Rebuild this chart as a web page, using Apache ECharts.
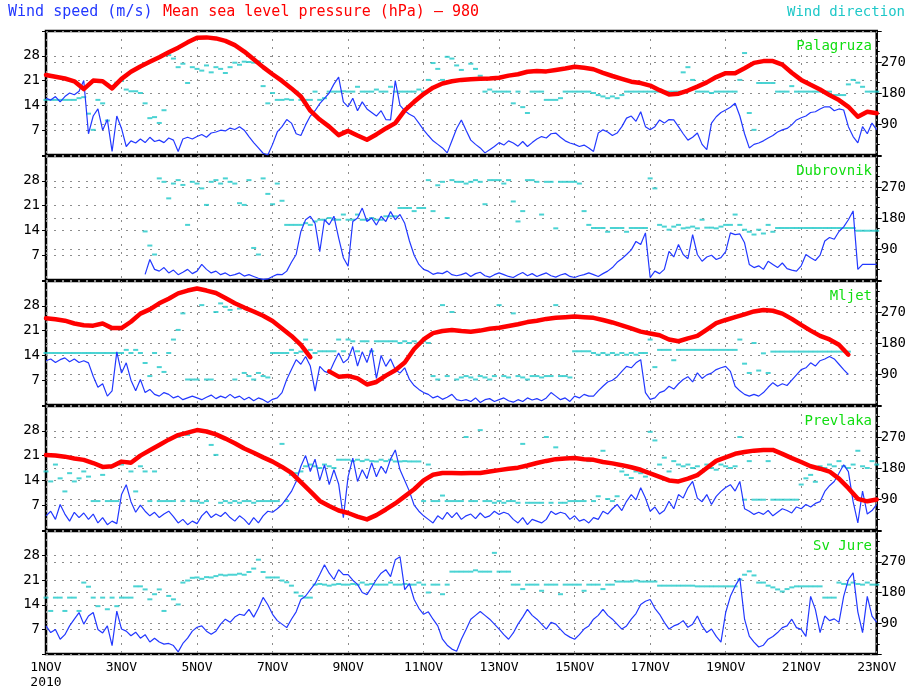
<!DOCTYPE html>
<html>
<head>
<meta charset="utf-8">
<title>Wind speed, pressure and wind direction - 1-23 Nov 2010</title>
<script src="https://cdn.jsdelivr.net/npm/echarts@6/dist/echarts.min.js"></script>
<style>
html, body { margin: 0; padding: 0; background: #fff; }
#main { width: 909px; height: 690px; }
</style>
</head>
<body>
<div id="main"></div>
<script>
// x = days since 1 Nov 2010 00h; wind every 3 h, pressure every 6 h
var WIND_STEP = 0.125;
var PRES_STEP = 0.25;

var stations = ['Palagruza', 'Dubrovnik', 'Mljet', 'Prevlaka', 'Sv Jure'];
var dayLabels = ['1NOV', '3NOV', '5NOV', '7NOV', '9NOV', '11NOV', '13NOV', '15NOV', '17NOV', '19NOV', '21NOV', '23NOV'];
var yearLabel = '2010';
var speedTicks = [7, 14, 21, 28];
var dirTicks = [90, 180, 270];

// wind speed (m/s)
var speedPalagruza = [
  16.0, 15.5, 16.5, 15.0, 16.5, 17.5, 17.0, 18.0,
  21.0, 6.0, 11.0, 13.0, 7.0, 10.0, 1.0, 11.0,
  7.5, 2.4, 4.0, 3.4, 4.5, 3.5, 5.0, 3.8,
  4.2, 3.5, 4.8, 4.2, 1.0, 4.5, 5.0, 4.5,
  5.2, 5.8, 5.0, 6.2, 6.5, 7.0, 6.8, 7.6,
  7.2, 8.0, 7.0, 5.2, 3.5, 2.0, 0.5, 0.0,
  3.0, 6.5, 8.0, 10.0, 9.0, 6.0, 5.5, 8.5,
  11.0, 12.5, 14.5, 16.0, 17.5, 20.0, 22.0, 15.0,
  13.6, 16.0, 12.5, 15.0, 13.0, 12.0, 11.0, 12.5,
  10.0, 9.9, 21.0, 14.0, 12.5, 11.5, 10.8, 9.0,
  7.1, 5.5, 4.0, 3.0, 2.0, 0.6, 4.0, 7.5,
  9.9, 7.0, 4.2, 3.0, 2.0, 0.6, 1.5, 2.4,
  3.5, 2.8, 4.0, 3.4, 2.5, 3.8, 2.4, 3.5,
  4.5, 5.2, 4.8, 6.0, 6.2, 5.0, 4.0, 3.4,
  3.0, 2.4, 2.8, 2.0, 1.0, 6.2, 7.1, 6.5,
  5.5, 6.2, 8.0, 10.4, 11.0, 9.5, 12.2, 8.0,
  7.1, 8.0, 9.9, 9.0, 10.0, 9.9, 8.0, 6.0,
  4.2, 5.0, 6.2, 3.0, 1.5, 9.0, 10.8, 12.0,
  12.7, 13.5, 14.6, 11.0, 6.0, 2.0, 3.0, 3.4,
  4.0, 4.8, 5.5, 6.5, 7.1, 7.5, 8.5, 9.9,
  10.5, 11.0, 12.0, 12.2, 13.0, 13.6, 13.6, 12.5,
  13.0, 12.7, 8.0, 5.2, 3.4, 8.0, 6.0, 9.0,
  7.1
];
var speedDubrovnik = [
  null, null, null, null, null, null, null, null,
  null, null, null, null, null, null, null, null,
  null, null, null, null, null, 1.6, 5.8, 3.0,
  2.5, 3.5, 2.0, 2.8, 1.5, 2.2, 3.0, 1.8,
  2.5, 4.4, 3.0, 2.0, 2.5, 1.5, 2.0, 1.2,
  1.5, 2.0, 1.1, 1.5, 1.0, 0.5, 0.2, 0.3,
  1.0, 1.6, 1.5, 2.5, 5.0, 7.2, 13.7, 17.0,
  18.0, 16.0, 8.0, 17.0, 15.6, 18.0, 11.9, 6.3,
  3.9, 16.5, 17.5, 20.3, 16.5, 17.5, 15.5, 18.0,
  16.5, 19.3, 17.0, 18.5, 16.0, 11.0, 7.0, 4.4,
  3.0, 2.5, 1.6, 2.0, 1.8, 2.5, 1.5, 1.2,
  1.5, 2.0, 1.0, 1.8, 2.2, 1.2, 0.8, 1.5,
  2.0, 1.5, 1.0, 0.7, 1.5, 2.1, 1.2, 1.8,
  1.0, 1.5, 2.0, 1.2, 0.8, 1.4, 1.8, 1.0,
  0.7, 1.2, 1.5, 2.0, 1.5, 1.0, 1.8, 2.5,
  3.5, 5.0, 6.0, 7.2, 8.5, 10.9, 10.0, 13.3,
  0.7, 2.5, 1.8, 3.0, 8.1, 6.5, 10.0, 7.2,
  6.0, 12.8, 7.2, 5.3, 6.5, 7.0, 5.8, 6.3,
  8.0, 13.3, 12.8, 13.0, 10.5, 4.4, 3.5, 4.0,
  3.0, 5.3, 4.4, 3.5, 4.8, 3.2, 2.8, 2.5,
  4.0, 7.2, 6.3, 5.5, 7.0, 11.0, 12.0, 11.5,
  13.7, 15.0, 17.0, 19.5, 3.0, 4.4, 4.4, 4.4,
  4.4
];
var speedMljet = [
  12.5, 13.0, 12.0, 12.8, 13.3, 12.2, 13.0, 12.0,
  12.5, 11.9, 8.1, 5.0, 6.0, 2.5, 4.0, 15.0,
  9.0, 11.9, 7.0, 4.0, 7.2, 3.5, 4.4, 3.0,
  2.5, 3.5, 3.0, 2.0, 2.5, 1.5, 2.0, 2.5,
  2.0, 1.5, 2.2, 2.8, 1.8, 2.5, 2.0, 3.0,
  2.0, 2.5, 1.5, 2.2, 1.2, 2.0, 1.5, 0.7,
  1.6, 2.0, 3.5, 7.2, 10.0, 12.8, 11.5, 13.7,
  11.0, 3.9, 10.9, 9.5, 9.0, 12.0, 14.7, 11.9,
  13.0, 16.5, 11.0, 15.0, 12.0, 16.0, 7.5, 14.0,
  10.9, 13.0, 10.0, 9.0, 10.5, 7.2, 5.5, 4.4,
  3.5, 3.0, 2.0, 2.5, 1.6, 2.2, 3.0, 1.5,
  1.2, 1.5, 1.0, 2.0, 0.7, 1.5, 1.8, 1.0,
  1.5, 2.0, 1.2, 0.8, 1.5, 1.0, 2.0, 1.4,
  1.8, 1.2, 2.0, 3.5, 2.5, 1.5, 2.0, 1.0,
  2.5, 2.0, 3.0, 2.5, 2.5, 4.0, 5.3, 6.5,
  7.0, 8.0, 9.5, 10.9, 10.5, 11.9, 12.8, 3.5,
  1.6, 2.0, 3.5, 4.0, 5.3, 4.5, 6.0, 7.2,
  8.0, 6.5, 9.1, 7.5, 8.5, 9.0, 10.0, 10.5,
  10.9, 9.5, 5.3, 4.0, 3.0, 2.5, 3.0, 2.5,
  3.5, 5.0, 6.3, 5.3, 6.0, 5.5, 7.0, 8.5,
  10.0, 10.5, 11.9, 11.0, 12.5, 13.0, 13.7, 13.0,
  11.5, 10.0, 8.6, null, null, null, null, null,
  null
];
var speedPrevlaka = [
  4.0, 5.3, 3.0, 7.2, 4.5, 2.5, 5.0, 3.5,
  4.8, 3.0, 4.5, 2.0, 3.5, 1.5, 2.5, 1.8,
  10.0, 12.8, 8.0, 5.0, 7.0, 5.3, 4.0, 5.0,
  3.5, 4.5, 5.3, 3.8, 2.0, 3.0, 1.5, 2.5,
  1.8, 4.0, 5.3, 3.5, 4.5, 3.8, 5.0, 3.5,
  2.5, 4.0, 3.0, 1.5, 3.5, 2.0, 4.0, 5.3,
  5.0, 6.0, 7.2, 9.0, 10.9, 13.7, 18.0, 21.0,
  16.5, 20.0, 14.0, 18.4, 12.8, 17.0, 13.0, 3.5,
  15.0, 20.3, 13.7, 17.0, 14.5, 19.0, 15.0, 18.0,
  16.0, 20.0, 22.6, 17.0, 14.0, 10.9, 7.0, 5.3,
  4.0, 3.0, 2.0, 4.0, 3.0, 5.0, 3.5, 4.9,
  3.0, 4.0, 4.5, 3.2, 4.8, 3.5, 4.0, 5.3,
  4.4, 5.0, 4.5, 3.0, 2.0, 3.5, 1.5, 3.0,
  2.5, 2.0, 3.0, 5.3, 4.4, 5.0, 4.6, 3.0,
  4.0, 2.5, 3.0, 2.0, 3.5, 3.0, 5.3, 4.5,
  6.0, 7.2, 5.5, 8.1, 10.0, 8.5, 11.9, 9.0,
  5.3, 6.5, 4.5, 5.5, 8.1, 6.0, 10.0, 9.0,
  11.9, 13.7, 9.0, 8.0, 10.0, 7.2, 9.5, 10.9,
  12.0, 12.8, 11.0, 13.7, 6.0, 5.3, 4.4, 5.0,
  4.4, 5.5, 4.0, 5.0, 6.0, 5.5, 4.8, 6.5,
  6.0, 7.2, 6.5, 7.5, 8.0, 10.9, 12.5, 13.7,
  16.0, 18.4, 16.5, 8.0, 2.0, 11.0, 4.5, 5.5,
  7.2
];
var speedSvJure = [
  8.0, 6.1, 7.0, 4.2, 5.5, 8.0, 9.9, 11.8,
  8.5, 10.8, 11.8, 7.0, 6.0, 8.0, 2.4, 12.2,
  7.1, 6.5, 5.2, 6.2, 4.5, 5.5, 3.4, 4.5,
  3.4, 2.8, 3.0, 2.4, 0.6, 3.0, 4.5, 6.5,
  7.6, 8.0, 6.5, 5.6, 6.5, 8.5, 9.9, 9.0,
  10.5, 11.3, 11.0, 12.7, 10.5, 13.0, 16.1, 14.0,
  11.3, 9.5, 8.5, 7.5, 9.9, 12.0, 15.5, 16.5,
  18.3, 20.0, 22.6, 25.4, 23.0, 21.2, 24.0, 22.6,
  22.6, 21.0, 19.8, 17.5, 16.9, 19.0, 21.2, 23.0,
  24.0, 22.0, 26.8, 27.7, 18.3, 20.0, 15.5, 13.0,
  11.3, 12.0, 9.9, 8.0, 4.2, 2.5, 1.4, 0.8,
  4.2, 7.0, 9.9, 11.0, 12.1, 11.0, 9.9, 8.5,
  7.1, 5.5, 4.2, 6.0, 8.5, 10.5, 12.7, 11.0,
  9.9, 8.5, 7.1, 9.0, 8.5, 7.0, 5.6, 4.8,
  4.2, 5.5, 7.1, 8.0, 9.9, 11.0, 12.7, 11.0,
  9.9, 8.5, 7.1, 8.0, 9.9, 11.5, 14.1, 15.0,
  15.5, 13.0, 11.3, 9.0, 7.1, 8.0, 8.5, 9.5,
  7.6, 8.5, 10.8, 8.0, 6.1, 7.1, 5.0, 3.4,
  11.8, 16.4, 19.3, 21.6, 9.9, 5.1, 3.4, 2.0,
  2.5, 4.2, 5.0, 6.1, 7.5, 8.0, 9.9, 7.5,
  7.0, 5.0, 16.4, 12.7, 6.1, 10.8, 9.5, 10.0,
  9.0, 16.4, 21.2, 23.1, 12.0, 6.1, 16.4, 10.8,
  9.0
];

// wind direction (degrees)
var dirPalagruza = [
  160, 160, 160, 160, 160, 160, 160, 165,
  168, 120, 73, 160, 150, 100, 195, 210,
  215, 190, 185, 185, 180, 150, 107, 110,
  93, 130, 290, 280, 255, 265, 209, 255,
  250, 245, 260, 240, 255, 250, 238, 255,
  268, 262, 271, 270, 268, 272, 200, 150,
  180, 160, 160, 162, 160, 184, 160, 160,
  160, 184, 160, 165, 184, 184, 184, 185,
  184, 184, 198, 184, 184, 184, 190, 184,
  184, 198, 184, 184, 184, 184, 184, 190,
  184, 218, 267, 250, 218, 285, 280, 260,
  247, 218, 265, 250, 230, 184, 190, 184,
  184, 184, 184, 150, 184, 139, 122, 184,
  184, 184, 160, 160, 160, 165, 184, 184,
  184, 184, 184, 184, 180, 174, 170, 165,
  170, 165, 174, 184, 184, 184, 184, 184,
  184, 184, 184, 184, 184, 184, 184, 240,
  255, 218, 184, 184, 184, 180, 184, 184,
  184, 184, 184, 218, 296, 122, 73, 209,
  209, 209, 209, 184, 184, 184, 200, 184,
  184, 184, 184, 184, 184, 184, 184, 174,
  174, 174, 205, 218, 210, 198, 184, 184,
  184
];
var dirDubrovnik = [
  null, null, null, null, null, null, null, null,
  null, null, null, null, null, null, null, null,
  null, null, null, null, null, 141, 100, 74,
  295, 285, 237, 280, 290, 276, 160, 285,
  280, 266, 218, 285, 290, 280, 295, 285,
  280, 223, 218, 290, 93, 74, 295, 250,
  220, 280, 230, 160, 160, 160, 160, 165,
  160, 170, 175, 175, 180, 175, 175, 190,
  175, 175, 190, 175, 175, 180, 175, 175,
  185, 185, 185, 209, 209, 209, 200, 209,
  209, 290, 200, 275, 285, 180, 290, 285,
  285, 280, 285, 290, 285, 220, 290, 290,
  290, 280, 290, 228, 170, 200, 290, 290,
  285, 190, 285, 285, 150, 285, 285, 285,
  285, 280, 200, 160, 151, 151, 151, 140,
  151, 151, 151, 140, 151, 151, 151, 151,
  295, 266, 160, 155, 146, 155, 160, 150,
  152, 155, 150, 175, 152, 152, 150, 155,
  160, 160, 190, 160, 146, 140, 132, 146,
  135, 160, 140, 151, 151, 151, 151, 151,
  151, 151, 151, 151, 151, 151, 151, 151,
  151, 151, 151, 151, 143, 143, 143, 143,
  143
];
var dirMljet = [
  151, 151, 151, 151, 151, 151, 151, 151,
  151, 151, 151, 151, 151, 151, 151, 151,
  151, 160, 151, 160, 151, 122, 84, 151,
  110, 96, 151, 190, 218, 266, 74, 74,
  74, 290, 74, 74, 270, 295, 285, 276,
  74, 280, 93, 84, 74, 93, 84, 80,
  151, 151, 151, 151, 160, 151, 155, 190,
  160, 151, 156, 156, 156, 156, 190, 156,
  190, 185, 156, 185, 185, 156, 185, 185,
  185, 185, 185, 180, 185, 180, 185, 180,
  185, 180, 84, 74, 290, 84, 270, 74,
  80, 84, 80, 74, 84, 80, 74, 84,
  290, 84, 80, 266, 84, 80, 74, 84,
  84, 80, 84, 84, 290, 84, 84, 80,
  156, 156, 156, 156, 151, 146, 151, 146,
  151, 146, 151, 146, 151, 146, 151, 151,
  190, 110, 160, 160, 160, 130, 160, 160,
  160, 160, 160, 160, 160, 160, 160, 160,
  160, 160, 160, 190, 120, 93, 180, 100,
  150, 93, 155, 155, 155, 155, 155, 155,
  155, 155, 155, 155, 155, 155, 155, 155,
  155, 155, 155, null, null, null, null, null,
  null
];
var dirPrevlaka = [
  170, 141, 190, 150, 112, 165, 141, 150,
  170, 155, 84, 84, 160, 84, 84, 84,
  190, 199, 170, 112, 185, 170, 84, 170,
  84, 84, 84, 84, 270, 84, 276, 84,
  84, 79, 84, 247, 218, 79, 84, 79,
  84, 79, 84, 84, 79, 84, 84, 84,
  84, 84, 250, 84, 160, 165, 170, 185,
  190, 185, 180, 190, 185, 180, 204, 204,
  204, 200, 204, 200, 204, 200, 199, 204,
  200, 204, 199, 199, 200, 199, 199, 199,
  84, 190, 84, 84, 100, 84, 84, 84,
  84, 270, 84, 84, 290, 84, 84, 79,
  84, 79, 84, 84, 79, 250, 79, 79,
  79, 79, 270, 79, 240, 79, 79, 84,
  84, 84, 84, 200, 84, 98, 230, 90,
  84, 98, 170, 160, 151, 170, 165, 155,
  285, 260, 190, 210, 170, 200, 190, 185,
  190, 180, 185, 170, 190, 180, 175, 190,
  185, 180, 185, 270, 88, 200, 88, 88,
  88, 200, 88, 88, 88, 88, 88, 88,
  132, 150, 160, 140, 185, 180, 190, 185,
  200, 185, 180, 190, 230, 185, 180, 200,
  190
];
var dirSvJure = [
  165, 126, 165, 165, 126, 165, 165, 126,
  209, 197, 165, 140, 165, 131, 165, 140,
  165, 165, 165, 198, 198, 189, 160, 175,
  189, 126, 170, 160, 145, 209, 215, 223,
  224, 220, 225, 224, 228, 232, 230, 232,
  232, 235, 232, 240, 250, 276, 240, 224,
  224, 224, 215, 210, 200, 180, 170, 165,
  165, 203, 205, 203, 200, 203, 205, 203,
  203, 205, 203, 209, 203, 205, 203, 203,
  203, 209, 203, 203, 205, 203, 203, 209,
  203, 180, 203, 203, 175, 203, 241, 241,
  241, 241, 241, 245, 241, 241, 241, 296,
  241, 241, 241, 203, 203, 190, 203, 203,
  203, 185, 203, 203, 203, 175, 203, 203,
  203, 203, 185, 203, 203, 203, 190, 203,
  203, 212, 212, 212, 212, 215, 212, 212,
  212, 212, 200, 200, 200, 200, 200, 200,
  200, 200, 198, 198, 198, 198, 198, 198,
  198, 198, 198, 218, 232, 242, 230, 209,
  209, 200, 195, 189, 183, 190, 195, 198,
  198, 198, 198, 198, 198, 165, 165, 165,
  209, 205, 203, 209, 205, 203, 209, 203,
  203
];

// mean sea level pressure minus 980 (hPa)
var presPalagruza = [
  22.6, 22.1, 21.6, 20.8, 18.6, 21.0, 20.8, 18.8,
  21.5, 23.5, 25.0, 26.3, 27.6, 29.0, 30.3, 31.8,
  33.1, 33.2, 32.9, 32.2, 31.0, 29.2, 27.0, 24.8,
  22.8, 20.9, 18.8, 16.5, 12.5, 10.0, 8.0, 5.6,
  6.8, 5.5, 4.3, 5.8, 7.5, 9.0, 12.6, 15.0,
  17.2, 19.0, 20.2, 20.8, 21.2, 21.4, 21.5, 21.6,
  21.8, 22.4, 22.8, 23.5, 23.7, 23.6, 24.0, 24.4,
  24.9, 24.6, 24.2, 23.2, 22.3, 21.5, 20.7, 20.3,
  19.6, 18.3, 17.1, 17.3, 18.2, 19.3, 20.5, 22.0,
  23.1, 23.1, 24.5, 26.0, 26.5, 26.5, 25.5, 23.2,
  21.2, 19.8, 18.5, 16.9, 15.5, 13.6, 10.8, 12.2,
  11.8
];
var presMljet = [
  24.5, 24.2, 23.8, 23.0, 22.5, 22.4, 23.0, 21.7,
  21.7, 23.5, 25.8, 27.0, 28.7, 30.0, 31.5, 32.3,
  32.9, 32.3, 31.6, 30.2, 28.7, 27.5, 26.4, 25.2,
  23.7, 21.6, 19.5, 17.0, 13.5, null, 9.5, 8.0,
  8.2, 7.5, 5.8, 6.5, 8.3, 9.8, 12.0, 15.8,
  18.5, 20.3, 20.9, 21.2, 20.9, 20.7, 21.0, 21.5,
  21.8, 22.3, 22.8, 23.4, 23.8, 24.3, 24.6, 24.8,
  25.0, 24.8, 24.6, 24.0, 23.3, 22.5, 21.6, 20.7,
  20.2, 19.7, 18.5, 18.0, 18.8, 19.5, 21.3, 23.1,
  24.0, 24.8, 25.6, 26.4, 26.8, 26.6, 25.8, 24.3,
  22.6, 21.0, 19.5, 18.5, 17.0, 14.2, null, null,
  null
];
var presPrevlaka = [
  21.2, 21.0, 20.7, 20.2, 19.8, 18.9, 17.8, 18.0,
  19.3, 19.0, 21.0, 22.5, 24.0, 25.5, 26.8, 27.5,
  28.2, 27.8, 27.0, 25.8, 24.5, 23.0, 21.8, 20.5,
  19.3, 17.8, 16.1, 13.5, 10.9, 8.2, 6.8, 5.5,
  4.8, 3.8, 3.0, 4.2, 5.8, 7.5, 9.5, 11.5,
  14.0, 15.6, 16.1, 16.1, 16.0, 16.1, 16.1, 16.5,
  16.9, 17.3, 17.6, 18.2, 18.9, 19.5, 20.0, 20.2,
  20.3, 20.0, 19.8, 19.2, 18.8, 18.3, 17.7, 17.0,
  16.0, 15.0, 14.0, 13.7, 14.5, 15.5, 17.5, 19.5,
  20.5, 21.5, 22.0, 22.4, 22.6, 22.6, 21.5, 20.3,
  19.2, 18.0, 17.3, 16.5, 14.5, 11.8, 8.8, 8.1,
  8.6
];

var BLUE = '#2238ff';
var RED = '#ff0000';
var CYAN = '#1ec8c8';
var GREEN = '#10dd10';
var FONT = '"DejaVu Sans Mono", monospace';

var PANEL_TOP = 31;
var PANEL_H = 124;
var PANEL_STEP = 125;

var panels = [
  { name: stations[0], speed: speedPalagruza, dir: dirPalagruza, pres: presPalagruza },
  { name: stations[1], speed: speedDubrovnik, dir: dirDubrovnik, pres: null },
  { name: stations[2], speed: speedMljet, dir: dirMljet, pres: presMljet },
  { name: stations[3], speed: speedPrevlaka, dir: dirPrevlaka, pres: presPrevlaka },
  { name: stations[4], speed: speedSvJure, dir: dirSvJure, pres: null }
];

function toPairs(arr, step) {
  return arr.map(function (v, i) { return [i * step, v]; });
}
function toPoints(arr, step) {
  var out = [];
  arr.forEach(function (v, i) { if (v !== null) out.push([i * step, v]); });
  return out;
}

var dotted = { color: '#8c8c8c', width: 1, type: [2, 6] };
var grids = [], xAxes = [], yAxes = [], series = [], texts = [];

panels.forEach(function (p, i) {
  var last = i === panels.length - 1;
  var top = PANEL_TOP + i * PANEL_STEP;
  grids.push({
    left: 46, right: 29, top: top, height: PANEL_H,
    show: true, borderColor: '#000', borderWidth: 2.5, backgroundColor: 'transparent'
  });
  xAxes.push({
    type: 'value', gridIndex: i, min: 0, max: 22, interval: 2,
    axisLine: { show: false },
    axisTick: { show: false },
    splitLine: { show: true, lineStyle: dotted },
    axisLabel: {
      show: last, color: '#000', fontFamily: FONT, fontSize: 13, margin: 6,
      lineHeight: 15, hideOverlap: false,
      formatter: function (v) {
        var s = dayLabels[Math.round(v / 2)];
        return v === 0 ? s + '\n' + yearLabel : s;
      }
    }
  });
  yAxes.push({
    type: 'value', gridIndex: i, position: 'left', min: 0, max: 35, interval: 7,
    axisLine: { show: false },
    axisTick: { show: true, length: 4, lineStyle: { color: '#000' } },
    splitLine: { show: true, lineStyle: dotted },
    axisLabel: {
      color: '#000', fontFamily: FONT, fontSize: 14, margin: 6,
      formatter: function (v) { return speedTicks.indexOf(v) >= 0 ? String(v) : ''; }
    }
  });
  yAxes.push({
    type: 'value', gridIndex: i, position: 'right', min: 0, max: 360, interval: 90,
    axisLine: { show: false },
    axisTick: { show: true, length: 5, lineStyle: { color: '#000' } },
    minorTick: { show: true, splitNumber: 3, length: 3, lineStyle: { color: '#000' } },
    splitLine: { show: true, lineStyle: dotted },
    axisLabel: {
      color: '#000', fontFamily: FONT, fontSize: 14, margin: 4,
      formatter: function (v) { return dirTicks.indexOf(v) >= 0 ? String(v) : ''; }
    }
  });

  series.push({
    type: 'scatter', xAxisIndex: i, yAxisIndex: 2 * i + 1,
    symbol: 'rect', symbolSize: [5, 2], z: 2, silent: true,
    itemStyle: { color: CYAN },
    data: toPoints(p.dir, WIND_STEP)
  });
  series.push({
    type: 'line', xAxisIndex: i, yAxisIndex: 2 * i, z: 3,
    showSymbol: false, connectNulls: false, silent: true,
    lineStyle: { color: BLUE, width: 1.2 },
    data: toPairs(p.speed, WIND_STEP)
  });
  if (p.pres) {
    series.push({
      type: 'line', xAxisIndex: i, yAxisIndex: 2 * i, z: 4,
      showSymbol: false, connectNulls: false, silent: true,
      lineStyle: { color: RED, width: 4.5, join: 'round', cap: 'round' },
      data: toPairs(p.pres, PRES_STEP)
    });
  }

  texts.push({
    type: 'text', right: 37, top: top + 8, z: 10,
    style: { text: p.name, fill: GREEN, font: '14px ' + FONT }
  });
});

texts.push({ type: 'text', left: 8, top: 5, style: { text: 'Wind speed (m/s)', fill: BLUE, font: '15px ' + FONT } });
texts.push({ type: 'text', left: 163, top: 5, style: { text: 'Mean sea level pressure (hPa) \u2013 980', fill: RED, font: '15px ' + FONT } });
texts.push({ type: 'text', right: 4, top: 5, style: { text: 'Wind direction', fill: CYAN, font: '14px ' + FONT } });

var chart = echarts.init(document.getElementById('main'));
chart.setOption({
  animation: false,
  backgroundColor: '#fff',
  grid: grids,
  xAxis: xAxes,
  yAxis: yAxes,
  series: series,
  graphic: texts
});
</script>
</body>
</html>
